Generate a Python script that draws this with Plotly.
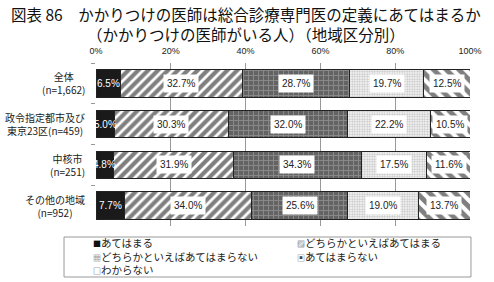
import plotly.graph_objects as go

categories = ["全体", "政令指定都市及び東京23区", "中核市", "その他の地域"]
cat_labels = ["全体<br>(n=1,662)", "政令指定都市及び<br>東京23区(n=459)", "中核市<br>(n=251)", "その他の地域<br>(n=952)"]
series_names = ["あてはまる", "どちらかといえばあてはまる", "どちらかといえばあてはまらない", "あてはまらない", "わからない"]
legend_glyphs = ["■", "▨", "▦", "▣", "□"]
s1 = [6.5, 5.0, 4.8, 7.7]
s2 = [32.7, 30.3, 31.9, 34.0]
s3 = [28.7, 32.0, 34.3, 25.6]
s4 = [19.7, 22.2, 17.5, 19.0]
s5 = [12.5, 10.5, 11.6, 13.7]
x_ticks = [0, 20, 40, 60, 80, 100]
title_text = "図表 86　かかりつけの医師は総合診療専門医の定義にあてはまるか<br>（かかりつけの医師がいる人）（地域区分別）"

all_series = [s1, s2, s3, s4, s5]
styles = [
    dict(color="#1a1a1a", pattern=None, glyph_color="#111"),
    dict(color="white", pattern=dict(shape="/", fgcolor="#000", bgcolor="white", size=7, solidity=0.6), glyph_color="#333"),
    dict(color="#707070", pattern=dict(shape="+", fgcolor="#b0b0b0", bgcolor="#636363", size=5, solidity=0.35), glyph_color="#555"),
    dict(color="white", pattern=dict(shape=".", fgcolor="#888", bgcolor="white", size=2.5, solidity=0.5), glyph_color="#444"),
    dict(color="white", pattern=dict(shape="\\", fgcolor="#000", bgcolor="white", size=9, solidity=0.55), glyph_color="#333"),
]

FONT = "Noto Sans CJK JP"
NUMF = "Liberation Sans"

W, H = 494, 282
ML, MR, MT, MB = 96, 12, 63, 56
PW, PH = W - ML - MR, H - MT - MB


def px(x):
    return (x - ML) / PW


def py(y):
    return (H - MB - y) / PH


fig = go.Figure()
for name, vals, st in zip(series_names, all_series, styles):
    marker = dict(color=st["color"], line=dict(color="#222", width=1))
    if st["pattern"]:
        marker["pattern"] = st["pattern"]
    fig.add_trace(go.Bar(y=categories, x=vals, name=name, orientation="h",
                         marker=marker, width=0.67, showlegend=False))

annotations = []
for i, cat in enumerate(categories):
    cum = 0
    for k, vals in enumerate(all_series):
        v = vals[i]
        center = cum + v / 2
        cum += v
        if k == 0:
            annotations.append(dict(x=center, y=cat, xref="x", yref="y", text=f"{v:.1f}%",
                                    showarrow=False, font=dict(family=NUMF, size=10, color="white")))
        else:
            annotations.append(dict(x=center, y=cat, xref="x", yref="y", text=f"{v:.1f}%",
                                    showarrow=False, bgcolor="white", borderpad=3,
                                    font=dict(family=NUMF, size=10, color="#222")))
    annotations.append(dict(x=px(87), y=cat, xref="paper", yref="y", text=cat_labels[i],
                            xanchor="right", align="center", showarrow=False,
                            font=dict(family=FONT, size=10, color="#222")))

annotations.append(dict(x=px(251), y=py(0.5), xref="paper", yref="paper",
                        text=title_text, align="center",
                        showarrow=False, xanchor="center", yanchor="top",
                        font=dict(family=FONT, size=15.5, color="#111")))

# legend (drawn as annotations inside a box)
legend_pos = [(91, 242), (301, 242), (91, 256), (301, 256), (91, 269)]
for name, glyph, st, (lx, ly) in zip(series_names, legend_glyphs, styles, legend_pos):
    annotations.append(dict(x=px(lx), y=py(ly), xref="paper", yref="paper",
                            text=f"<span style='font-size:8px;color:{st['glyph_color']}'>{glyph}</span>{name}",
                            showarrow=False, xanchor="left", yanchor="middle",
                            font=dict(family=FONT, size=10.5, color="#222")))

shapes = [dict(type="rect", xref="paper", yref="paper", x0=px(63), x1=px(483), y0=py(277), y1=py(237),
               line=dict(color="#999", width=1), fillcolor="rgba(0,0,0,0)")]

fig.update_layout(
    width=W, height=H,
    margin=dict(l=ML, r=MR, t=MT, b=MB),
    barmode="stack",
    bargap=0.33,
    plot_bgcolor="white", paper_bgcolor="white",
    annotations=annotations,
    shapes=shapes,
    showlegend=False,
    xaxis=dict(side="top", range=[0, 100], tickvals=x_ticks, ticktext=[f"{t}%" for t in x_ticks],
               showgrid=True, gridcolor="#999", gridwidth=1, zeroline=False, showline=False,
               ticks="", tickfont=dict(family=NUMF, size=9, color="#222"), ticklabelstandoff=6,
               fixedrange=True),
    yaxis=dict(autorange="reversed", showticklabels=False, ticks="outside", tickson="boundaries",
               ticklen=4, tickcolor="#999", showgrid=False, zeroline=False, showline=False),
)

fig.write_html("out.html")
